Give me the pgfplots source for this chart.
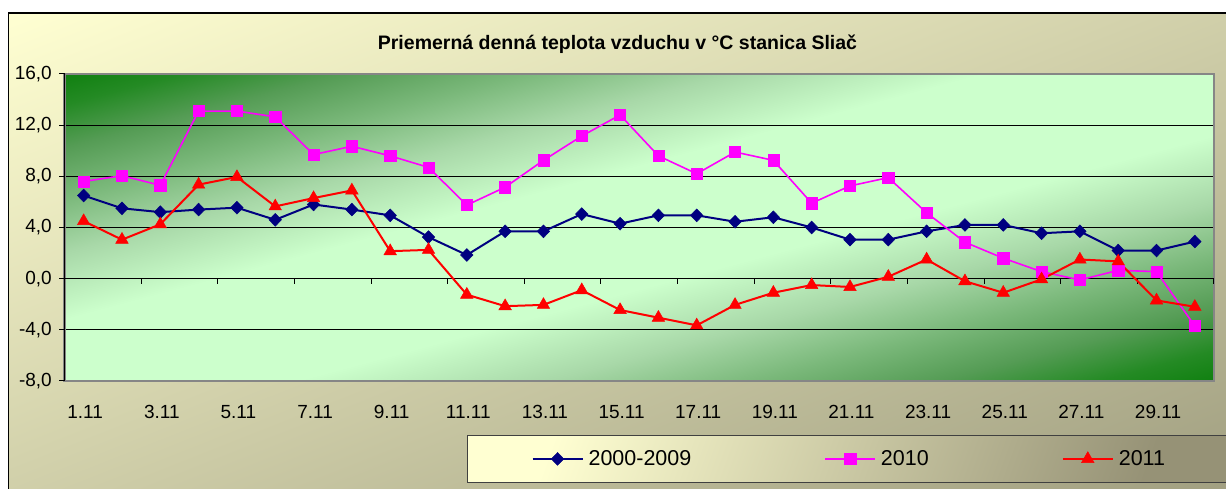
\documentclass[border=0pt]{standalone}
\usepackage{pgfplots}
\usepackage{pgfplotstable}
\pgfplotsset{compat=1.18}
\usepackage{fontspec}
\setmainfont{Liberation Sans}
\definecolor{g0}{HTML}{108010}
\definecolor{g1}{HTML}{248A24}
\definecolor{g2}{HTML}{559C55}
\definecolor{g3}{HTML}{7AB87A}
\definecolor{g4}{HTML}{A8D8A8}
\definecolor{g5}{HTML}{CCFFCC}
\definecolor{cream}{RGB}{255,255,210}
\definecolor{olivebg}{RGB}{160,158,128}
\definecolor{legdark}{RGB}{150,146,118}
\definecolor{navyb}{RGB}{0,0,128}
\definecolor{pinkm}{RGB}{255,0,255}
\definecolor{redt}{RGB}{255,0,0}
\definecolor{framegray}{RGB}{134,134,134}
% visible part of a TikZ shading is 25bp..75bp
\pgfdeclarehorizontalshading{plotbg}{100bp}{color(0bp)=(g0); color(25bp)=(g0); color(27.5bp)=(g1); color(31bp)=(g2); color(35bp)=(g3); color(39.5bp)=(g4); color(45bp)=(g5); color(55bp)=(g5); color(60.5bp)=(g4); color(65bp)=(g3); color(69bp)=(g2); color(72.5bp)=(g1); color(75bp)=(g0); color(100bp)=(g0)}
\pgfdeclarehorizontalshading{outerbg}{100bp}{color(0bp)=(cream); color(25bp)=(cream); color(75bp)=(olivebg); color(100bp)=(olivebg)}
\pgfdeclarehorizontalshading{legbg}{100bp}{color(0bp)=(cream); color(25bp)=(cream); color(75bp)=(legdark); color(100bp)=(legdark)}

\pgfplotstableread{
d a b c
1 6.5 7.6 4.5
2 5.5 8.05 3.05
3 5.2 7.3 4.25
4 5.4 13.1 7.35
5 5.55 13.1 7.95
6 4.6 12.65 5.65
7 5.8 9.7 6.3
8 5.4 10.35 6.9
9 4.95 9.6 2.15
10 3.25 8.7 2.25
11 1.85 5.75 -1.25
12 3.7 7.15 -2.15
13 3.7 9.25 -2.05
14 5.05 11.15 -0.9
15 4.3 12.8 -2.45
16 4.95 9.6 -3.05
17 4.95 8.2 -3.65
18 4.45 9.9 -2.05
19 4.8 9.25 -1.1
20 4.0 5.9 -0.5
21 3.05 7.25 -0.65
22 3.05 7.9 0.15
23 3.7 5.15 1.5
24 4.2 2.85 -0.2
25 4.2 1.6 -1.1
26 3.55 0.55 -0.05
27 3.7 -0.1 1.5
28 2.2 0.65 1.35
29 2.2 0.55 -1.7
30 2.9 -3.7 -2.2
}\data

\begin{document}
\begin{tikzpicture}
\useasboundingbox (0,0) rectangle (1226bp,489bp);
\clip (0,0) rectangle (1226bp,489bp);
\fill[white] (0,0) rectangle (1226bp,489bp);
% outer chart area: diagonal gradient, isolines along the anti-diagonal
\begin{scope}[transform canvas={cm={12.315,-4.86,12.315,4.86,(8.5bp,476bp)}}]
\shade[shading=outerbg] (0,0) -- (50bp,50bp) -- (100bp,0) -- (50bp,-50bp) -- cycle;
\end{scope}
\draw[black, line width=1.2bp] (8.5bp,-10bp) -- (8.5bp,476bp) -- (1240bp,476bp);
% plot area background
\begin{scope}[transform canvas={cm={11.495,-3.07,11.495,3.07,(64.5bp,415bp)}}]
\shade[shading=plotbg] (0,0) -- (50bp,50bp) -- (100bp,0) -- (50bp,-50bp) -- cycle;
\end{scope}
\node[font=\bfseries\fontsize{19.5bp}{22bp}\selectfont] at (617.5bp,445bp) {Priemerná denná teplota vzduchu v °C stanica Sliač};

\begin{axis}[
  at={(64.5bp,108bp)}, anchor=south west,
  scale only axis, width=1149.5bp, height=307bp,
  xmin=0.5, xmax=30.5, ymin=-8, ymax=16,
  axis line style={draw=framegray, line width=2bp},
  xtick={1,3,...,29},
  xticklabels={1.11,3.11,5.11,7.11,9.11,11.11,13.11,15.11,17.11,19.11,21.11,23.11,25.11,27.11,29.11},
  ytick={-8,-4,...,16},
  ymajorgrids, grid style={black, line width=0.9bp},
  major tick length=0pt,
  tick label style={font=\fontsize{19bp}{22bp}\selectfont},
  xticklabel style={anchor=center, yshift=-31bp, xshift=1.5bp},
  yticklabel style={anchor=east, inner sep=0pt, xshift=-12.5bp,
    /pgf/number format/.cd, fixed, fixed zerofill, precision=1, use comma, assume math mode=true},
]
\end{axis}

\begin{axis}[
  at={(64.5bp,108bp)}, anchor=south west,
  scale only axis, width=1149.5bp, height=307bp,
  xmin=0.5, xmax=30.5, ymin=-8, ymax=16,
  axis x line=middle, axis y line=left,
  axis line style={-, black, line width=1.2bp},
  xtick={2.5,4.5,...,30.5}, xticklabels={},
  ytick={-8,-4,...,16}, yticklabels={},
  tick align=outside, major tick length=5bp,
  tick style={black, line width=1bp},
  legend columns=3,
  legend style={
    at={(0.3502,-0.3322)}, anchor=south west,
    draw=black!75, line width=1bp,
    shade, shading=legbg, shading angle=-20,
    inner xsep=64bp, inner ysep=15.3bp,
    font=\fontsize{21.5bp}{24bp}\selectfont,
    nodes={inner sep=0pt},
    /tikz/every odd column/.append style={column sep=5bp},
    /tikz/every even column/.append style={column sep=133bp},
  },
  legend image code/.code={\draw[mark repeat=2,mark phase=2] plot coordinates {(0bp,0bp) (25bp,0bp) (50bp,0bp)};},
]
\addplot[navyb, line width=2bp, mark=diamond*, mark size=6.4bp, mark options={xscale=1.3, fill=navyb, draw=navyb, line width=0.5bp}] table[x=d,y=a]{\data};
\addlegendentry{2000-2009}
\addplot[pinkm, line width=1.6bp, mark=square*, mark size=5.6bp, mark options={fill=pinkm, draw=pinkm, line width=0.5bp}] table[x=d,y=b]{\data};
\addlegendentry{2010}
\addplot[redt, line width=2bp, mark=triangle*, mark size=7.2bp, mark options={fill=redt, draw=redt, line width=0.5bp}] table[x=d,y=c]{\data};
\addlegendentry{2011}
\end{axis}
\end{tikzpicture}
\end{document}
